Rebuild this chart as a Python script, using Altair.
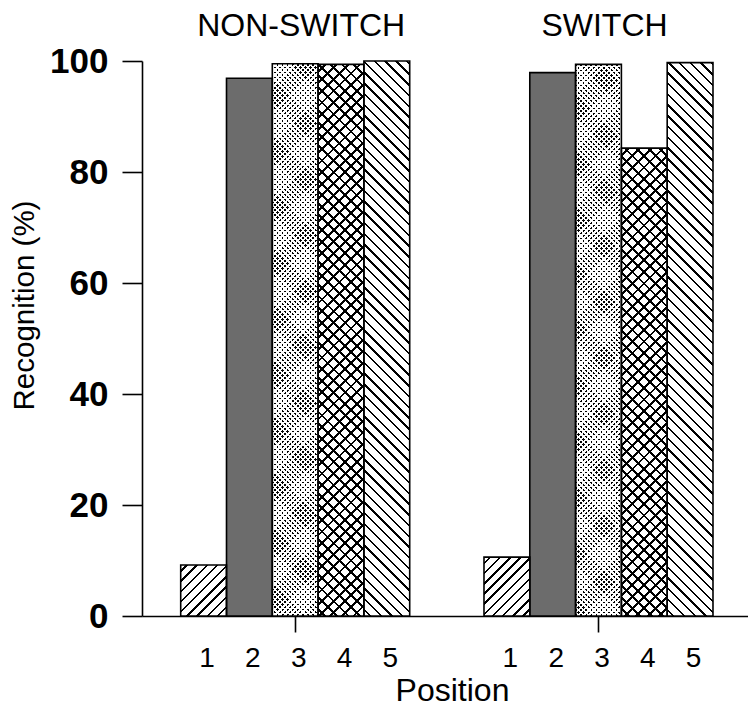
import math
import altair as alt
import pandas as pd

# ---------------- data ----------------
groups = ["NON-SWITCH"] * 5 + ["SWITCH"] * 5
positions = [1, 2, 3, 4, 5, 1, 2, 3, 4, 5]
recognition = [9.2, 96.9, 99.5, 99.4, 100.0, 10.6, 97.9, 99.4, 84.3, 99.7]
group_names = ["NON-SWITCH", "SWITCH"]
y_ticks = [0, 20, 40, 60, 80, 100]

# ---------------- layout / style ----------------
PLOT_W, PLOT_H = 606, 555
BAR_PX = 45.8
X_MAX = PLOT_W / BAR_PX
GROUP_OFFSET = {"NON-SWITCH": 0.845, "SWITCH": 7.467}
FONT = "Liberation Sans"
LW = 1.6

# pattern per position: base fill, list of stripe overlays (kind, period, line width, colour)
PATTERNS = {
    1: ("white", [("/", 7.2, 1.7, "black")]),
    2: ("#6c6c6c", []),
    3: ("black", [("/", 3.6, 1.85, "white"), ("\\", 3.6, 1.85, "white")]),
    4: ("white", [("/", 8.2, 2.0, "black"), ("\\", 8.2, 2.0, "black")]),
    5: ("white", [("\\", 7.6, 1.7, "black")]),
}


def stripes(w, h, kind, period, line_w, color, gap="transparent"):
    if kind in ("/", "\\"):
        c = (w + h) / (w * w + h * h)
        if kind == "/":
            x1, y1, x2, y2 = 0, 0, c * w, c * h
        else:
            x1, y1, x2, y2 = 0, 1, c * w, 1 - c * h
        span = (w + h) / math.sqrt(2)
    elif kind == "-":
        x1, y1, x2, y2 = 0, 0, 0, 1
        span = h
    else:
        x1, y1, x2, y2 = 0, 0, 1, 0
        span = w
    stops = [{"offset": 0, "color": gap}]
    t = period / 2.0
    while t < span:
        a = round(t / span, 6)
        b = round(min((t + line_w) / span, 1.0), 6)
        stops += [{"offset": a, "color": gap}, {"offset": a, "color": color},
                  {"offset": b, "color": color}, {"offset": b, "color": gap}]
        t += period
    stops.append({"offset": 1, "color": gap})
    return {"gradient": "linear", "x1": x1, "y1": y1, "x2": x2, "y2": y2, "stops": stops}


df = pd.DataFrame({"group": groups, "position": positions, "recognition": recognition})
off = f"(datum.group == 'SWITCH' ? {GROUP_OFFSET['SWITCH']} : {GROUP_OFFSET['NON-SWITCH']})"

tick_vals = [GROUP_OFFSET[g] + p - 0.5 for g, p in zip(groups, positions)]
center_vals = [v for v, p in zip(tick_vals, positions) if p == 3]
label_expr = f"{positions}[indexof({tick_vals}, datum.value)]"

x_scale = alt.Scale(domain=[0, X_MAX], nice=False, zero=False)
x_axis = alt.Axis(
    values=tick_vals, labelExpr=label_expr,
    tickColor={"condition": {"test": f"indexof({center_vals}, datum.value) >= 0", "value": "black"},
               "value": "transparent"},
    tickSize=16, tickWidth=LW, domainColor="black", domainWidth=LW, grid=False,
    labelFont=FONT, labelFontSize=28, labelColor="black", labelPadding=12, labelOffset=3,
    labelFlush=False, labelOverlap=False,
    title="Position", titleFont=FONT, titleFontSize=32, titleFontWeight="normal", titleColor="black",
    titleX=310, titleY=84, titleBaseline="alphabetic", titleAlign="center",
)
y_axis = alt.Axis(
    values=y_ticks, grid=False, tickSize=20, tickWidth=LW, tickColor="black",
    domainColor="black", domainWidth=LW,
    labelFont=FONT, labelFontSize=35, labelFontWeight="bold", labelColor="black", labelPadding=14,
    title="Recognition (%)", titleFont=FONT, titleFontSize=29.5, titleFontWeight="normal",
    titleColor="black", titleX=-109, titleY=244, titleBaseline="alphabetic", titleAlign="center",
)

base = alt.Chart(df).transform_calculate(
    x_start=f"{off} + datum.position - 1",
    x_end=f"{off} + datum.position",
)
X = alt.X("x_start:Q", scale=x_scale, axis=x_axis)
X2 = alt.X2("x_end:Q")
Y = alt.Y("recognition:Q", scale=alt.Scale(domain=[0, 100], nice=False), axis=y_axis)
Y2 = alt.datum(0)

fill_layer = base.mark_bar(strokeWidth=0).encode(
    x=X, x2=X2, y=Y, y2=Y2,
    color=alt.Color("position:O", scale=alt.Scale(domain=[1, 2, 3, 4, 5],
                                                  range=[PATTERNS[p][0] for p in [1, 2, 3, 4, 5]]),
                    legend=None),
)

layers = [fill_layer]
for g, p, v in zip(groups, positions, recognition):
    h = v / 100.0 * PLOT_H
    for kind, period, lw, col in PATTERNS[p][1]:
        layers.append(
            base.transform_filter(f"datum.group == '{g}' && datum.position == {p}")
            .mark_bar(fill=stripes(BAR_PX, h, kind, period, lw, col), strokeWidth=0)
            .encode(x=X, x2=X2, y=Y, y2=Y2)
        )

outline = base.mark_bar(fillOpacity=0, stroke="black", strokeWidth=LW).encode(
    x=X, x2=X2, y=Y, y2=Y2)
layers.append(outline)

titles = alt.Chart(pd.DataFrame({"group": group_names})).transform_calculate(
    xc=f"{off} + 2.5"
).mark_text(font=FONT, fontSize=32, baseline="alphabetic", align="center", dx=6, color="black").encode(
    x=alt.X("xc:Q", scale=x_scale, axis=x_axis),
    y=alt.value(-25),
    text="group:N",
)
layers.append(titles)

chart = alt.layer(*layers).properties(
    width=PLOT_W, height=PLOT_H,
    autosize=alt.AutoSizeParams(type="none"),
    padding={"left": 134, "top": 53, "right": 0, "bottom": 93},
).configure_view(stroke="transparent")

chart.save("out.html", embed_options={"renderer": "svg", "actions": False})
